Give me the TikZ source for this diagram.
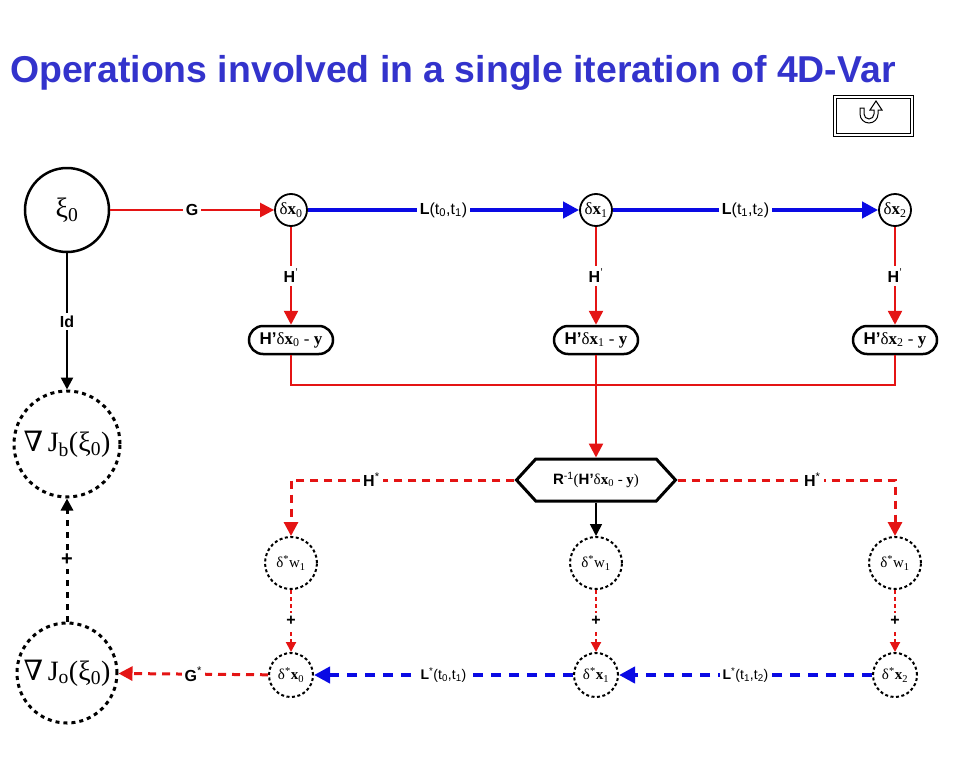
\documentclass[tikz,border=0pt]{standalone}
\usepackage{fontspec}
\setmainfont{Liberation Serif}
\setsansfont{Liberation Sans}
\newfontfamily\dvs{DejaVu Serif}
\usetikzlibrary{arrows.meta,shapes.misc,shapes.symbols}
\definecolor{tblue}{RGB}{51,51,204}
\definecolor{ared}{RGB}{228,20,20}
\definecolor{ablue}{RGB}{10,10,228}
\begin{document}
\begin{tikzpicture}[x=1pt,y=-1pt,
  every node/.style={inner sep=0pt},
  lbl/.style={fill=white, inner sep=3pt, font=\fontsize{16}{18}\selectfont\sffamily},
  plbl/.style={fill=white, inner sep=3pt, font=\fontsize{20}{22}\selectfont\sffamily},
  slbl/.style={fill=white, inner sep=3pt, font=\fontsize{14}{16}\selectfont\sffamily},
  bigc/.style={circle, draw, line width=2.5pt, minimum size=84pt, font=\fontsize{28}{30}\selectfont},
  smc/.style={circle, draw, line width=1.8pt, minimum size=32pt, font=\fontsize{17}{18}\selectfont},
  pill/.style={rounded rectangle, draw, line width=2.5pt, minimum width=84pt, minimum height=28pt, font=\fontsize{17}{18}\selectfont},
  dotc/.style={circle, draw, line width=2pt, dash pattern=on 3pt off 2.5pt, font=\fontsize{15}{16}\selectfont},
  bigdot/.style={circle, draw, line width=3pt, dash pattern=on 4pt off 4pt, font=\fontsize{28}{30}\selectfont},
  redline/.style={draw=ared, line width=2.5pt},
  blueline/.style={draw=ablue, line width=4pt},
  reddash/.style={draw=ared, line width=3pt, dash pattern=on 8pt off 6pt},
  bluedash/.style={draw=ablue, line width=4pt, dash pattern=on 10pt off 8pt},
  reddot/.style={draw=ared, line width=2pt, dash pattern=on 4pt off 3pt},
  tipa/.style={-{Triangle[length=14pt,width=14pt]}},
  tipb/.style={-{Triangle[length=16pt,width=16pt]}},
  tipc/.style={-{Triangle[length=10pt,width=10pt]}},
  tipk/.style={-{Triangle[length=12pt,width=12pt]}}
]
\useasboundingbox (0,0) rectangle (960,768);
% title
\node[anchor=base west, text=tblue, font=\fontsize{37.4}{40}\selectfont\sffamily\bfseries] (title) at (10,82) {Operations involved in a single iteration of 4D-Var};
% button
\draw[line width=1pt] (833,95) rectangle (913,136);
\draw[line width=1pt] (836,98) rectangle (910,133);
\draw[line width=1pt] (860,108) -- (860,114) arc (180:0:9) -- (878,110) -- (882,110) -- (876,101) -- (870,110) -- (874,110) -- (874,114) arc (0:180:5) -- (864,108) -- cycle;
% nodes
\node[bigc] (xi) at (67,210) {ξ\textsubscript{0}};
\node[smc] (dx0) at (291,210) {δ\textbf{x}\textsubscript{0}};
\node[smc] (dx1) at (596,210) {δ\textbf{x}\textsubscript{1}};
\node[smc] (dx2) at (895,210) {δ\textbf{x}\textsubscript{2}};
\node[pill] (b0) at (291,340) {{\sffamily\bfseries H'}δ\textbf{x}\textsubscript{0} - \textbf{y}};
\node[pill] (b1) at (596,340) {{\sffamily\bfseries H'}δ\textbf{x}\textsubscript{1} - \textbf{y}};
\node[pill] (b2) at (895,340) {{\sffamily\bfseries H'}δ\textbf{x}\textsubscript{2} - \textbf{y}};
\coordinate (m) at (596,385);
\node[signal, signal to=west and east, signal pointer angle=95, draw, line width=3pt, minimum width=159pt, minimum height=42pt, font=\fontsize{15}{16}\selectfont] (hex) at (596,480) {{\sffamily\bfseries R}\textsuperscript{\sffamily -1}({\sffamily\bfseries H'}δ\textbf{x}\textsubscript{0} - \textbf{y})};
\node[dotc, minimum size=52pt] (w0) at (291,563) {δ\textsuperscript{*}w\textsubscript{1}};
\node[dotc, minimum size=52pt] (w1) at (596,563) {δ\textsuperscript{*}w\textsubscript{1}};
\node[dotc, minimum size=52pt] (w2) at (895,563) {δ\textsuperscript{*}w\textsubscript{1}};
\node[dotc, minimum size=44pt] (s0) at (291,675) {δ\textsuperscript{*}\textbf{x}\textsubscript{0}};
\node[dotc, minimum size=44pt] (s1) at (596,675) {δ\textsuperscript{*}\textbf{x}\textsubscript{1}};
\node[dotc, minimum size=44pt] (s2) at (895,675) {δ\textsuperscript{*}\textbf{x}\textsubscript{2}};
\node[bigdot, minimum size=106pt] (jb) at (67,444) {{\dvs ∇}\,J\textsubscript{b}(ξ\textsubscript{0})};
\node[bigdot, minimum size=100pt] (jo) at (67,673) {{\dvs ∇}\,J\textsubscript{o}(ξ\textsubscript{0})};
% top row
\draw[redline, tipa] (xi) -- node[lbl]{\bfseries G} (dx0);
\draw[blueline, tipb] (dx0) -- node[lbl]{{\bfseries L}(t\textsubscript{0},t\textsubscript{1})} (dx1);
\draw[blueline, tipb] (dx1) -- node[lbl]{{\bfseries L}(t\textsubscript{1},t\textsubscript{2})} (dx2);
\draw[redline, tipa] (dx0) -- node[lbl]{{\bfseries H}\textsuperscript{'}} (b0);
\draw[redline, tipa] (dx1) -- node[lbl]{{\bfseries H}\textsuperscript{'}} (b1);
\draw[redline, tipa] (dx2) -- node[lbl]{{\bfseries H}\textsuperscript{'}} (b2);
\draw[redline] (b0.south) |- (m) -| (b2.south);
\draw[redline, tipa] (b1.south) -- (hex.north);
% adjoint
\draw[reddash, tipa] (hex.west) -| node[lbl, pos=0.32]{{\bfseries H}\textsuperscript{*}} (w0.north);
\draw[reddash, tipa] (hex.east) -| node[lbl, pos=0.31]{{\bfseries H}\textsuperscript{*}} (w2.north);
\draw[line width=1.5pt, tipk] (hex.south) -- (w1.north);
\draw[reddot, tipc] (w0) -- node[lbl]{\bfseries +} (s0);
\draw[reddot, tipc] (w1) -- node[lbl]{\bfseries +} (s1);
\draw[reddot, tipc] (w2) -- node[lbl]{\bfseries +} (s2);
\draw[bluedash, tipb] (s2) -- node[slbl]{{\bfseries L}\textsuperscript{*}(t\textsubscript{1},t\textsubscript{2})} (s1);
\draw[bluedash, tipb] (s1) -- node[slbl]{{\bfseries L}\textsuperscript{*}(t\textsubscript{0},t\textsubscript{1})} (s0);
\draw[reddash, tipa] (s0) -- node[lbl]{{\bfseries G}\textsuperscript{*}} (jo);
% left column
\draw[line width=2.5pt, tipk] (xi) -- node[lbl]{\bfseries Id} (jb);
\draw[line width=3pt, dash pattern=on 6pt off 6pt, tipk] (jo) -- node[plbl]{\bfseries +} (jb);
\end{tikzpicture}
\end{document}
